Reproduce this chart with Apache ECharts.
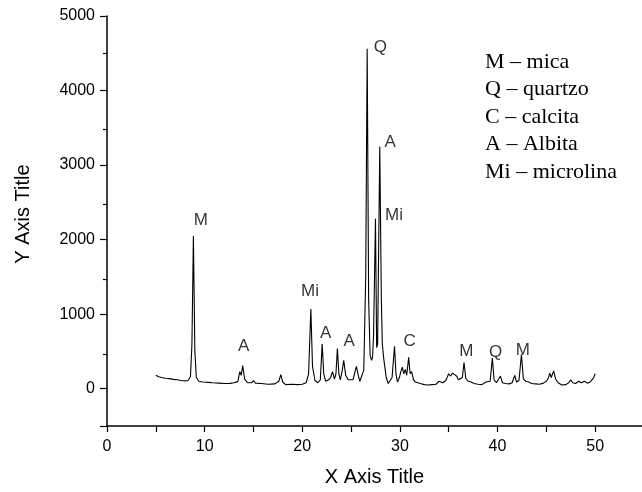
<!DOCTYPE html>
<html>
<head>
<meta charset="utf-8">
<script src="https://cdn.jsdelivr.net/npm/echarts@6/dist/echarts.min.js"></script>
<style>html,body{margin:0;padding:0;background:#fff;}#c{width:642px;height:492px;}</style>
</head>
<body>
<div id="c"></div>
<script>
const twoTheta = [5.0,5.3,5.6,6.0,6.4,6.8,7.2,7.6,8.0,8.3,8.55,8.7,8.85,9.0,9.15,9.4,9.8,10.4,10.6,10.8,11.5,12.0,12.6,13.0,13.4,13.6,13.75,13.9,14.1,14.4,14.8,15.0,15.2,15.8,16.5,17.2,17.6,17.8,18.0,18.3,19.0,19.5,20.0,20.4,20.65,20.88,21.05,21.3,21.6,21.85,22.04,22.2,22.4,22.7,22.9,23.1,23.3,23.45,23.6,23.75,23.9,24.1,24.25,24.45,24.7,24.9,25.2,25.4,25.55,25.7,25.9,26.1,26.3,26.5,26.65,26.8,26.95,27.1,27.2,27.3,27.5,27.62,27.72,27.94,28.1,28.2,28.35,28.6,28.8,29.0,29.2,29.45,29.6,29.75,29.95,30.1,30.25,30.4,30.55,30.7,30.9,31.05,31.2,31.4,31.6,31.8,32.1,32.5,32.9,33.3,33.7,34.0,34.2,34.4,34.7,35.0,35.2,35.4,35.6,35.8,36.0,36.2,36.4,36.57,36.75,37.0,37.3,37.6,38.0,38.4,38.8,39.0,39.25,39.47,39.65,39.9,40.1,40.3,40.5,40.8,41.2,41.5,41.76,41.95,42.2,42.45,42.65,42.9,43.2,43.5,43.9,44.3,44.7,45.0,45.2,45.35,45.5,45.75,45.95,46.2,46.6,47.0,47.3,47.5,47.7,48.0,48.3,48.6,48.9,49.2,49.5,49.7,49.85,50.0];
const intensity = [180,160,150,140,135,125,120,110,105,110,160,600,2050,500,150,100,90,85,100,80,75,70,72,80,95,230,180,310,130,80,80,110,75,70,60,65,100,190,90,55,60,55,60,80,200,1070,300,110,80,120,600,200,100,120,150,230,130,200,540,200,120,250,380,180,120,100,120,230,300,200,100,120,250,1500,4560,1200,450,380,420,700,2280,550,600,3250,1200,600,400,150,70,90,150,570,200,90,150,230,290,200,260,180,420,200,230,120,90,80,70,55,50,55,60,100,120,80,110,200,170,210,230,170,120,100,150,350,140,100,90,70,60,55,90,65,100,410,120,80,90,170,80,70,65,80,180,90,110,460,130,100,90,70,65,60,75,100,140,210,150,240,130,80,50,55,80,120,80,70,100,80,100,75,90,100,150,200];

// peak annotations: x, y (data units), text
const peakLabelX = [9.6, 14.0, 20.8, 22.4, 24.8, 28.0, 29.0, 29.4, 31.0, 36.8, 39.8, 42.6];
const peakLabelY = [2260, 570, 1310, 745, 630, 4580, 3300, 2330, 640, 505, 490, 515];
const peakLabelText = ['M', 'A', 'Mi', 'A', 'A', 'Q', 'A', 'Mi', 'C', 'M', 'Q', 'M'];

const legendLines = ['M \u2013 mica', 'Q \u2013 quartzo', 'C \u2013 calcita', 'A \u2013 Albita', 'Mi \u2013 microlina'];

const xMajorTicks = [0, 10, 20, 30, 40, 50];
const xAllTicks = [0, 5, 10, 15, 20, 25, 30, 35, 40, 45, 50];
const yMajorTicks = [0, 1000, 2000, 3000, 4000, 5000];
const yMinorTicks = [500, 1500, 2500, 3500, 4500];

const xTitle = 'X Axis Title';
const yTitle = 'Y Axis Title';

const FONT = "'Liberation Sans', Arial, sans-serif";
const SERIF = "'Liberation Serif', 'Times New Roman', serif";

const chart = echarts.init(document.getElementById('c'), null, {renderer: 'canvas'});

const lineData = twoTheta.map((x, i) => [x, intensity[i]]);
const labelData = peakLabelX.map((x, i) => [x, peakLabelY[i], peakLabelText[i]]);

const axisLineStyle = {color: '#000', width: 1.5};
const tickStyle = {color: '#000', width: 1.2};
const X_MAX = 54.8;
const gridBox = {left: 107, top: 16, width: 535, height: 413.6, containLabel: false};

chart.setOption({
  animation: false,
  backgroundColor: '#fff',
  grid: [Object.assign({}, gridBox), Object.assign({}, gridBox)],
  xAxis: [{
    gridIndex: 0, type: 'value', min: 0, max: X_MAX, interval: 10, position: 'bottom',
    axisLine: {show: true, onZero: false, lineStyle: axisLineStyle},
    axisTick: {show: true, length: 6, customValues: xAllTicks, lineStyle: tickStyle},
    axisLabel: {color: '#000', fontFamily: FONT, fontSize: 16, margin: 13, customValues: xMajorTicks,
      formatter: v => String(v)},
    splitLine: {show: false},
    name: xTitle, nameLocation: 'middle', nameGap: 41,
    nameTextStyle: {color: '#000', fontFamily: FONT, fontSize: 20}
  }, {
    gridIndex: 1, type: 'value', min: 0, max: X_MAX, position: 'bottom', show: false
  }],
  yAxis: [{
    gridIndex: 0, type: 'value', min: -500, max: 5000, position: 'left',
    axisLine: {show: true, onZero: false, lineStyle: axisLineStyle},
    axisTick: {show: true, length: 7, customValues: [-500].concat(yMajorTicks), lineStyle: tickStyle},
    axisLabel: {color: '#000', fontFamily: FONT, fontSize: 16, margin: 12, customValues: yMajorTicks,
      formatter: v => String(v)},
    splitLine: {show: false}
  }, {
    gridIndex: 1, type: 'value', min: -500, max: 5000, interval: 500, position: 'left',
    axisLine: {show: false, onZero: false},
    axisTick: {show: true, length: 4, customValues: yMinorTicks, lineStyle: tickStyle},
    axisLabel: {show: false},
    splitLine: {show: false}
  }],
  series: [{
    type: 'line', data: lineData, xAxisIndex: 0, yAxisIndex: 0,
    showSymbol: false, symbol: 'none',
    lineStyle: {color: '#000', width: 1.1},
    silent: true
  }, {
    type: 'scatter', data: labelData, xAxisIndex: 0, yAxisIndex: 0,
    symbolSize: 1, itemStyle: {color: 'rgba(0,0,0,0)'},
    label: {show: true, position: 'inside', color: '#000', fontFamily: FONT, fontSize: 17,
      textBorderWidth: 0, formatter: p => p.value[2]},
    silent: true
  }],
  graphic: [{
    type: 'text', x: 23, y: 214, rotation: Math.PI / 2,
    style: {text: yTitle, fill: '#000', font: "20px " + FONT, textAlign: 'center', textVerticalAlign: 'middle'}
  }].concat(legendLines.map((t, i) => ({
    type: 'text', x: 485, y: 62 + i * 27.5,
    style: {text: t, fill: '#000', font: "22px " + SERIF, textAlign: 'left', textVerticalAlign: 'middle'}
  })))
});
</script>
</body>
</html>
